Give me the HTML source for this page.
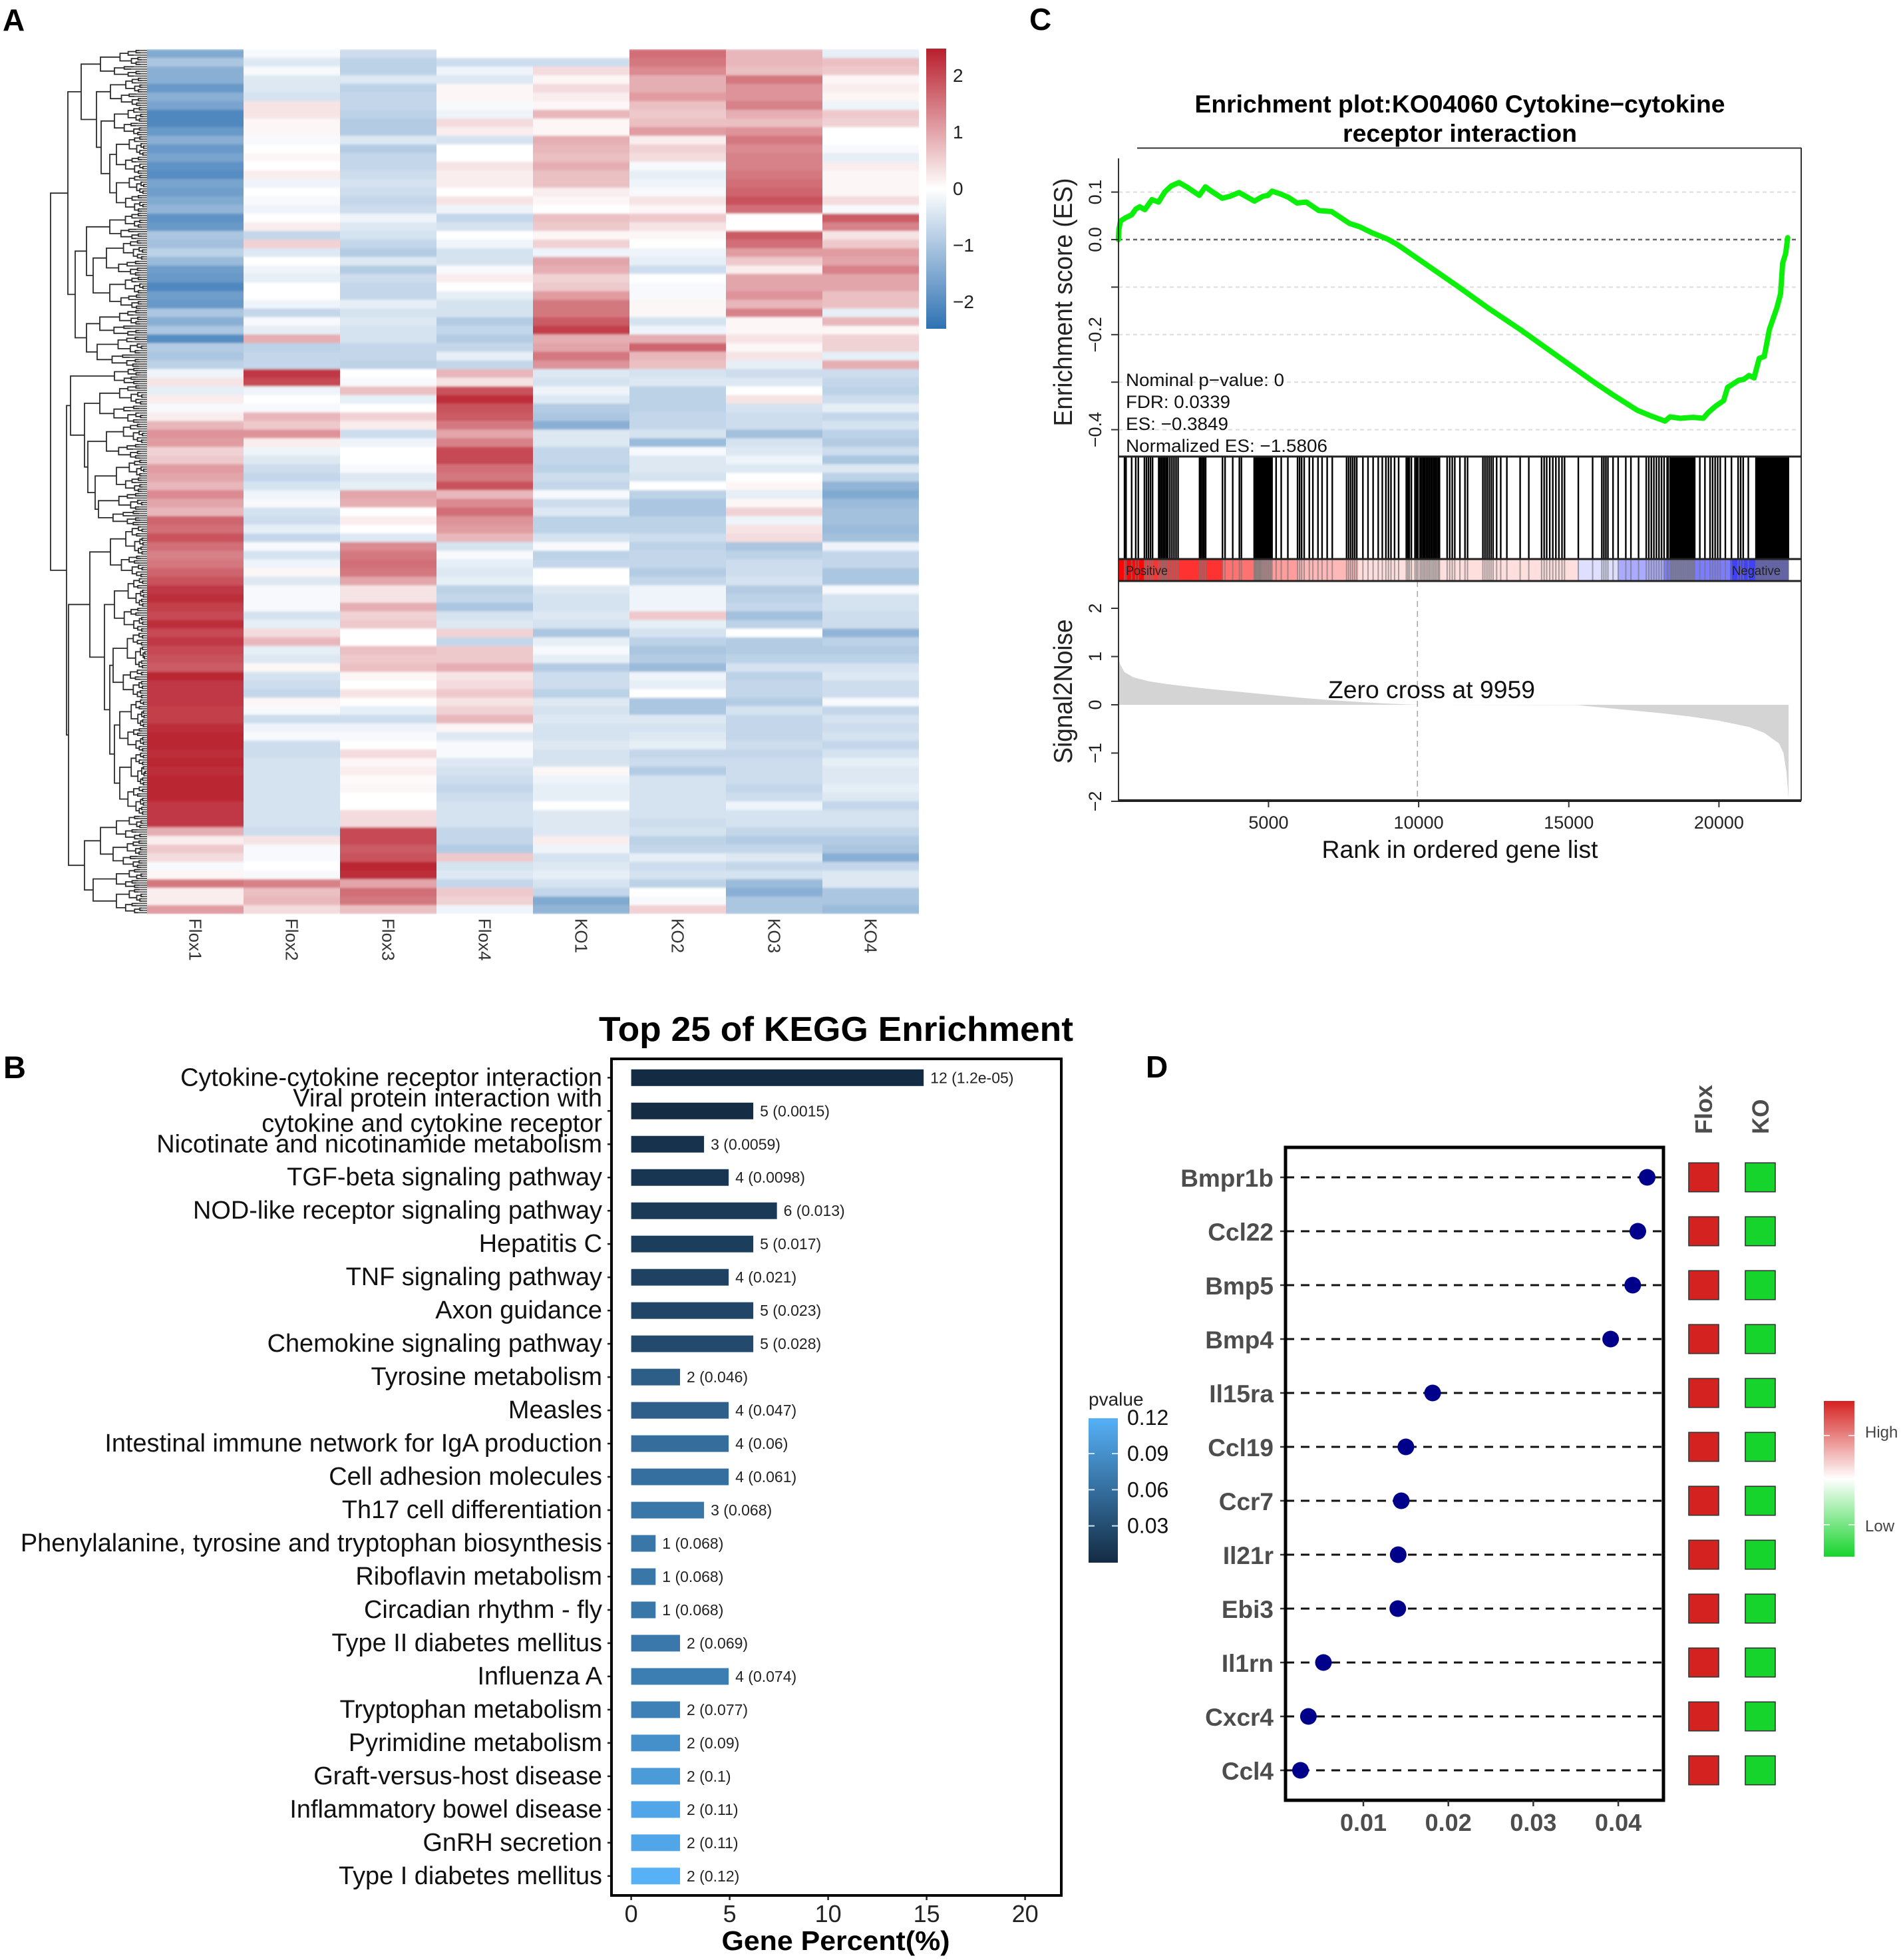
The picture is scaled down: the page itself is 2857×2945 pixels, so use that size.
<!DOCTYPE html>
<html lang="en">
<head>
<meta charset="utf-8">
<title>Multi-panel expression figure</title>
<style>
html,body{margin:0;padding:0;background:#fff;}
svg{display:block;font-family:"Liberation Sans",sans-serif;}
</style>
</head>
<body>
<svg id="fig" xmlns="http://www.w3.org/2000/svg" width="2857" height="2945" viewBox="0 0 2857 2945">
<defs>
<linearGradient id="heatLegendGrad" x1="0" y1="0" x2="0" y2="1">
<stop offset="0" stop-color="#b81f2c"/><stop offset="0.5" stop-color="#ffffff"/><stop offset="1" stop-color="#2f72b3"/>
</linearGradient>
<linearGradient id="pvalGrad" x1="0" y1="0" x2="0" y2="1">
<stop offset="0" stop-color="#56B1F7"/><stop offset="1" stop-color="#132B43"/>
</linearGradient>
<linearGradient id="exprGrad" x1="0" y1="0" x2="0" y2="1">
<stop offset="0" stop-color="#d42220"/><stop offset="0.5" stop-color="#ffffff"/><stop offset="1" stop-color="#17d42d"/>
</linearGradient>
<filter id="softRows" x="0" y="0" width="1" height="1"><feGaussianBlur stdDeviation="0 1.6" edgeMode="duplicate"/></filter>
</defs>
<rect x="0" y="0" width="2857" height="2945" fill="#fff"/>

<text x="4" y="46" font-size="46" font-weight="bold">A</text>
<text x="5" y="1620" font-size="47" font-weight="bold">B</text>
<text x="1547" y="45" font-size="46" font-weight="bold">C</text>
<text x="1722" y="1619" font-size="46" font-weight="bold">D</text>

<g id="panelA">
<g id="dendro"></g>
<g id="heatCells" shape-rendering="crispEdges" filter="url(#softRows)"></g>
<g id="heatLabels"></g>
<rect x="1392" y="73" width="30" height="421" fill="url(#heatLegendGrad)"/>
<g id="heatLegendTicks"></g>
</g>

<g id="panelC">
<text x="2194" y="169" font-size="37" font-weight="bold" text-anchor="middle" textLength="797" lengthAdjust="spacingAndGlyphs">Enrichment plot:KO04060 Cytokine−cytokine</text>
<text x="2194" y="213" font-size="37" font-weight="bold" text-anchor="middle" textLength="352" lengthAdjust="spacingAndGlyphs">receptor interaction</text>
<g id="esGrid"></g>
<g id="stripG" shape-rendering="crispEdges"></g>
<g id="rugG"></g>
<g id="s2nG"></g>
<g id="esCurve"></g>
<g id="cAxes"></g>
<line x1="1709" y1="222.5" x2="2707" y2="222.5" stroke="#333" stroke-width="2"/>
<line x1="2707" y1="222" x2="2707" y2="1203" stroke="#333" stroke-width="2"/>
<line x1="1681" y1="238" x2="1681" y2="1203" stroke="#333" stroke-width="2"/>
<line x1="1681" y1="686" x2="2707" y2="686" stroke="#222" stroke-width="3"/>
<line x1="1681" y1="840" x2="2707" y2="840" stroke="#222" stroke-width="3"/>
<line x1="1681" y1="873" x2="2707" y2="873" stroke="#222" stroke-width="3"/>
<line x1="1681" y1="1203" x2="2707" y2="1203" stroke="#222" stroke-width="4"/>
<text transform="translate(1611 454) rotate(-90)" font-size="39" text-anchor="middle" textLength="373" lengthAdjust="spacingAndGlyphs" fill="#222">Enrichment score (ES)</text>
<text transform="translate(1611 1039) rotate(-90)" font-size="39" text-anchor="middle" textLength="217" lengthAdjust="spacingAndGlyphs" fill="#222">Signal2Noise</text>
<text x="2194" y="1289" font-size="37" text-anchor="middle" textLength="415" lengthAdjust="spacingAndGlyphs" fill="#111">Rank in ordered gene list</text>
<text x="1692" y="580" font-size="27" fill="#111" textLength="238" lengthAdjust="spacingAndGlyphs">Nominal p−value: 0</text>
<text x="1692" y="613" font-size="27" fill="#111" textLength="157" lengthAdjust="spacingAndGlyphs">FDR: 0.0339</text>
<text x="1692" y="646" font-size="27" fill="#111" textLength="154" lengthAdjust="spacingAndGlyphs">ES: −0.3849</text>
<text x="1692" y="679" font-size="27" fill="#111" textLength="303" lengthAdjust="spacingAndGlyphs">Normalized ES: −1.5806</text>
<text x="1692" y="864" font-size="19" fill="#222" textLength="63" lengthAdjust="spacingAndGlyphs">Positive</text>
<text x="2603" y="864" font-size="19" fill="#222" textLength="73" lengthAdjust="spacingAndGlyphs">Negative</text>
<text x="1996" y="1049" font-size="37" fill="#111" textLength="311" lengthAdjust="spacingAndGlyphs">Zero cross at 9959</text>
</g>

<g id="panelB">
<text x="900" y="1564" font-size="52" font-weight="bold" textLength="713" lengthAdjust="spacingAndGlyphs">Top 25 of KEGG Enrichment</text>
<g id="keggBars"></g>
<g id="keggY"></g>
<g id="keggX"></g>
<rect x="919" y="1591" width="676" height="1257" fill="none" stroke="#000" stroke-width="4"/>
<text x="1256" y="2930" font-size="41" font-weight="bold" text-anchor="middle" textLength="343" lengthAdjust="spacingAndGlyphs">Gene Percent(%)</text>
<text x="1636" y="2112" font-size="28" fill="#222">pvalue</text>
<rect x="1636" y="2131" width="44" height="217" fill="url(#pvalGrad)"/>
<g id="pvalTicks"></g>
</g>

<g id="panelD">
<g id="lolli"></g>
<rect x="1932" y="1724" width="568" height="981" fill="none" stroke="#000" stroke-width="5"/>
<g id="lolliDots"></g>
<g id="lolliX"></g>
<g id="exprBoxes"></g>
<text transform="translate(2573 1704) rotate(-90)" font-size="36" font-weight="bold" fill="#4d4d4d">Flox</text>
<text transform="translate(2658 1704) rotate(-90)" font-size="35" font-weight="bold" fill="#4d4d4d">KO</text>
<rect x="2741" y="2105" width="46" height="234" fill="url(#exprGrad)"/>
<line x1="2741" y1="2157" x2="2787" y2="2157" stroke="#fff" stroke-width="1.5" stroke-dasharray="9 28 9"/>
<line x1="2741" y1="2291" x2="2787" y2="2291" stroke="#fff" stroke-width="1.5" stroke-dasharray="9 28 9"/>
<text x="2803" y="2160" font-size="24" fill="#444">High</text>
<text x="2803" y="2301" font-size="24" fill="#444">Low</text>
</g>
</svg>

<script>
/* ---------- Panel A data ---------- */
const sampleNames = ['Flox1','Flox2','Flox3','Flox4','KO1','KO2','KO3','KO4'];
const flox1Values = [
-1.5,-1,-1.4,-1.4,-1.8,-1.4,-1.6,-2.1,-2.1,-1.8,-1.4,-1.8,-1.6,-1.9,-2,-1.6,-1.7,-1.5,-1.3,-1.9,-1.8,-1,-1.1,-.8,-1.2,
-1.7,-1.8,-2.1,-1.7,-1.8,-1,-1.4,-1,-2,-.9,-1,-.8,-.2,.3,-.3,.2,-.1,.2,.8,1.2,1.1,.5,.6,1.1,1,
.8,1.3,1,.8,1.7,1.6,1.9,1.6,1.4,1.5,1.7,1.9,2.2,2.3,2.1,2,2.3,2,2.2,2,1.9,1.8,2.4,2.2,2.2,2.2,
2.1,2.1,2.3,2.4,2.4,2.3,2.4,2.3,2.4,2.4,2.4,2.2,2.2,2.2,.9,.2,.6,.4,-.1,.1,1.5,.2,.2,1.1];
const flox2Values = [
-.1,-.4,-.1,-.4,-.4,-.5,.3,.3,.1,.1,-.1,0,.1,0,.2,-.2,0,-.1,-.2,0,.2,-.7,.5,-.4,0,
-.2,-.3,0,0,-.2,-.7,-.1,-.3,.9,-.8,-.7,-.7,2.2,2,-.2,0,-.1,.8,.6,1.2,.2,-.2,-.4,-.6,-.7,
-.5,-.2,-.1,-.5,-.6,-.3,-.7,-.1,-.5,-.2,.1,-.4,-.1,-.1,-.1,-.5,-.3,.4,.8,-.3,-.4,.1,-.5,-.6,-.7,.1,
-.1,-.6,-.2,-.1,-.6,-.6,-.5,-.5,-.5,-.5,-.5,-.5,-.5,-.5,-.6,.3,-.1,-.1,0,-.1,1.4,.7,.8,.4];
const flox3Values = [
-.6,-.8,-.8,-.4,-.8,-.7,-.7,-.8,-.9,-.9,-.4,-.9,-.7,-.7,-.6,-.5,-.6,-.7,-.6,-.2,-.4,-.5,-.7,-.9,-.4,
-.9,-.6,-.7,-.7,-.3,-.5,-.4,-.5,-.5,-.7,-.7,-.8,0,-.1,.7,-.3,0,.5,.2,-.6,-.2,0,0,-.1,-.4,
-.3,1,.9,0,.2,0,-.4,1.3,1.5,1.6,1.5,1,.3,.3,.9,.5,.6,0,0,.7,.6,.7,.1,0,.3,0,
-.3,-.6,-.2,-.1,0,.4,.1,.2,.05,.1,0,0,.4,.4,2,2,1.8,1.9,2.4,2.3,1,1.6,1.5,.7];
const flox4Values = [
0,-.6,-.2,-.4,.1,.1,-.1,-.2,.4,.2,-.5,0,0,.3,.2,.2,0,.3,-.2,-.7,-.5,0,-.2,-.5,-.5,
-.1,.2,0,-.3,-.5,-.5,-.9,-.7,-.9,-.7,-.3,-.7,.8,.3,1.9,2.3,1.9,1.8,1.5,1,1.4,2,2,1.6,1.5,
1.9,.8,1.3,1.6,1.2,1.1,.8,-.5,-.1,-.3,-.4,-.3,-.8,-.7,-1,-.5,-.4,.5,-.7,.6,.6,.9,.3,.4,.6,.3,
.5,.8,.1,-.4,-.1,-.1,-.4,-.5,-.6,-.7,-.6,-.5,-.5,-.5,-.7,-.7,-.9,.6,-.5,-.4,-.7,.6,.5,-.2];
const ko1Values = [
0,-.6,.4,.1,.4,.2,.1,.8,.1,.1,.9,.8,.7,.9,.7,.7,.2,.1,0,.7,.6,.1,.5,-.2,1,
.9,.5,.6,1.1,1.5,1.5,1.8,2.1,.9,1,1.5,1.2,-.4,-.5,-.2,-.4,-.9,-1,-1.4,-.4,-.4,-.7,-.7,-.8,-.6,
-.7,-.1,-.6,-.4,-.8,-.8,-.5,-.1,-.8,-.7,0,0,-.4,-.5,-.5,-.4,-.5,-1,-.3,-.1,-.3,-.9,-.6,-.6,-.8,-.4,
-.5,-.4,-.5,-.5,-.4,-.5,-.5,.1,-.2,-.3,-.3,0,-.4,-.4,-.4,.2,-.2,-.5,-.4,-.3,-.5,-.7,-1.5,-1.3];
const ko2Values = [
1.6,1.5,1.3,.9,.9,1.1,.7,.6,.7,1.1,.2,.5,.4,-.1,-.3,-.2,-.1,.3,.1,.6,.3,.1,0,-.2,-.3,
-.6,0,-.1,-.1,.1,.1,-.5,-.2,.9,1.7,.8,.7,-.5,-.4,-.8,-.8,-.8,-.7,-.7,-.5,-1.2,-.1,-.4,-.4,-.5,
0,-.8,-1,-1,-.8,-.8,-.6,-.8,-.7,-.7,-.9,-.7,-.2,-.2,-.2,.6,-.3,-.5,-.8,-1,-.9,-1.2,-.2,-.3,0,-1,
-1,-.4,-.5,-.4,-.3,-.7,-.6,-.9,-.5,-.5,-.5,-.5,-.5,-.6,-.5,-.8,-.7,-.3,-.6,-.5,-.8,0,-.1,.5];
const ko3Values = [
.8,.8,.7,1.5,1.2,1.2,1.4,.9,.7,1.2,1.5,1.3,1.4,1.4,1.5,1.6,1.7,1.9,1.6,0,0,1.8,1.6,1.1,.6,
.2,1,1,1.2,.8,1.4,.1,.1,.3,.1,.3,-.3,-.6,-.4,0,.3,-.5,-.6,-.6,-1.1,-.5,-.4,-.2,-.4,0,
.1,-.3,.1,.5,-.2,.3,.4,-1,-.8,-.6,-.6,-.5,-.9,-.8,-.7,-1.1,-.8,0,-.9,-.9,-.8,-.5,-.8,-.7,-.7,-.9,
-.5,-.7,-.7,-.7,-.6,-.7,-.6,-.6,-.6,-.7,-.6,-.2,-.5,-.5,-.7,-.9,-.7,-.4,-.7,-.5,-1.2,-1.4,-1,-1];
const ko4Values = [
-.3,.7,.6,.1,.2,.1,-.2,.6,.5,0,0,-.1,-.3,.2,.1,.1,.1,.4,-.1,1.8,1.4,.3,.6,1.1,1,
1.4,1,1,.7,.7,-.3,.8,.1,.5,.5,-.3,.9,-.6,-.7,-.8,-.6,-.3,-.7,-.5,-.8,-.9,-.6,-1,-.4,-.8,
-1.3,-1.5,-1.2,-1.1,-1.1,-1.2,-1.1,-.2,-.7,-.7,-1,-1,-.1,-.5,-.5,-.6,-.6,-1.3,-.8,-.9,-.8,-.5,-.4,-.6,-.6,-.1,
-.7,-.5,-.6,-.5,-.7,-.5,-.3,-.4,-.4,-.3,-.4,-.7,-.5,-.5,-.7,-.9,-1,-1.4,-.7,-.4,-.4,-1,-1,-1.2];
const heatTicks = [2,1,0,-1,-2];
const heatTickLabels = ['2','1','0','−1','−2'];

/* ---------- Panel C data ---------- */
const esRanks = [0,17,68,237,441,576,712,881,1119,1339,1542,1763,2017,2271,2695,2898,3119,3458,3712,4017,4305,4526,4814,4983,5119,5407,5661,5949,6255,6678,7102,7695,8034,8458,8967,9306,10153,11340,12357,13374,14730,15747,16425,17272,17696,18204,18374,18713,19137,19476,19645,19899,20154,20289,20662,20832,21001,21171,21340,21510,21679,21933,22052,22120,22222,22289];
const esValues = [0,.021,.039,.046,.052,.064,.069,.063,.084,.079,.1,.113,.12,.111,.093,.111,.101,.087,.091,.099,.089,.081,.091,.093,.102,.096,.089,.077,.079,.061,.059,.034,.027,.014,.001,-.011,-.048,-.1,-.146,-.189,-.25,-.296,-.325,-.359,-.37,-.382,-.373,-.376,-.374,-.376,-.364,-.35,-.339,-.311,-.296,-.294,-.286,-.291,-.25,-.246,-.189,-.143,-.114,-.05,-.029,.004];
const hitRanks = [204,255,442,578,663,867,935,1003,1071,1139,1343,1394,1445,1496,1547,1598,1649,1717,1785,1853,1921,1989,2703,2754,2805,2856,2907,3468,3553,3808,4029,4097,4522,4548,4573,4598,4624,4649,4675,4700,4726,4751,4777,4811,4845,4879,4913,4947,4981,5015,5049,5083,5117,5253,5423,5644,5967,6035,6103,6188,6358,6477,6647,6783,6953,7123,7599,7667,7735,7803,7871,7939,8143,8313,8483,8653,8789,8908,8993,9078,9197,9333,9588,9639,9690,9758,9877,9928,9979,10047,10098,10149,10200,10251,10302,10353,10404,10455,10506,10557,10608,10659,10693,10948,11033,11118,11203,11373,11543,11628,12138,12206,12274,12342,12410,12478,12597,12733,12937,13379,13668,14093,14178,14263,14365,14467,14569,14671,14773,14858,15317,15793,16099,16167,16235,16303,16473,16643,16898,17068,17323,17578,17663,17748,17833,17918,18003,18088,18173,18275,18309,18377,18411,18445,18479,18513,18547,18581,18615,18649,18683,18717,18751,18785,18819,18853,18887,18921,18955,18989,19023,19057,19091,19125,19159,19193,19363,19533,19703,19788,19873,19958,20043,20213,20417,20638,20723,20808,20978,21233,21273,21313,21353,21393,21433,21473,21513,21553,21593,21633,21673,21713,21753,21793,21833,21873,21913,21953,21993,22033,22073,22113,22153,22193,22233,22273,22313];
const stripRanks = [0,870,3470,4520,5970,7980,15280,16640,18170,20380,22320];
const stripColors = ['#fb0606','#ff3232','#ff7272','#ff9c9c','#ffb8b8','#ffdede','#dfdfff','#aaaaff','#7c7cff','#4040ff'];
const s2nRanks = [0,50,200,500,1000,1500,2000,3000,4000,5000,6000,7000,8000,9000,9959,15300,15500,16000,17000,18000,19000,20000,21000,21500,22000,22150,22250,22320];
const s2nValues = [1,.85,.68,.57,.49,.44,.4,.33,.27,.21,.15,.1,.06,.025,0,-.005,-.02,-.05,-.11,-.17,-.24,-.33,-.46,-.58,-.8,-1,-1.4,-1.95];
const zeroCrossRank = 9959;
const esTicks = [.1,0,-.1,-.2,-.3,-.4];
const esTickLabels = ['0.1','0.0','','−0.2','','−0.4'];
const esDimGrid = [.1,-.1,-.2,-.3,-.4];
const s2nTicks = [2,1,0,-1,-2];
const s2nTickLabels = ['2','1','0','−1','−2'];
const rankTicks = [5000,10000,15000,20000];
const rankTickLabels = ['5000','10000','15000','20000'];

/* ---------- Panel B data ---------- */
const keggPathways = ['Cytokine-cytokine receptor interaction','Viral protein interaction with\ncytokine and cytokine receptor','Nicotinate and nicotinamide metabolism','TGF-beta signaling pathway','NOD-like receptor signaling pathway','Hepatitis C','TNF signaling pathway','Axon guidance','Chemokine signaling pathway','Tyrosine metabolism','Measles','Intestinal immune network for IgA production','Cell adhesion molecules','Th17 cell differentiation','Phenylalanine, tyrosine and tryptophan biosynthesis','Riboflavin metabolism','Circadian rhythm - fly','Type II diabetes mellitus','Influenza A','Tryptophan metabolism','Pyrimidine metabolism','Graft-versus-host disease','Inflammatory bowel disease','GnRH secretion','Type I diabetes mellitus'];
const keggCounts = [12,5,3,4,6,5,4,5,5,2,4,4,4,3,1,1,1,2,4,2,2,2,2,2,2];
const keggPercent = [14.85,6.2,3.7,4.95,7.4,6.2,4.95,6.2,6.2,2.48,4.95,4.95,4.95,3.7,1.24,1.24,1.24,2.48,4.95,2.48,2.48,2.48,2.48,2.48,2.48];
const keggPvalueLabels = ['1.2e-05','0.0015','0.0059','0.0098','0.013','0.017','0.021','0.023','0.028','0.046','0.047','0.06','0.061','0.068','0.068','0.068','0.068','0.069','0.074','0.077','0.09','0.1','0.11','0.11','0.12'];
const keggXTicks = [0,5,10,15,20];
const pvalLegendTicks = [.12,.09,.06,.03];
const pvalLegendLabels = ['0.12','0.09','0.06','0.03'];

/* ---------- Panel D data ---------- */
const geneNames = ['Bmpr1b','Ccl22','Bmp5','Bmp4','Il15ra','Ccl19','Ccr7','Il21r','Ebi3','Il1rn','Cxcr4','Ccl4'];
const geneValues = [.0434,.0423,.0417,.0391,.01815,.015,.01446,.0141,.01405,.0053,.00353,.0026];
const floxLevels = [1,1,1,1,1,1,1,1,1,1,1,1];
const koLevels = [-1,-1,-1,-1,-1,-1,-1,-1,-1,-1,-1,-1];
const lolliXTicks = [.01,.02,.03,.04];
const lolliXLabels = ['0.01','0.02','0.03','0.04'];

/* ---------- Row dendrogram structure ---------- */
const dendroTree = [76,
 [102,
  [122,[151,74,116],[145,[166,116,160],[152,[172,160,204],[165,[175,204,262],[175,262,319]]]]],
  [113,[130,[165,319,360],[140,[160,360,415],[165,415,465]]],[130,[150,465,505],[146,505,552]]]],
 [100,
  [106,[172,552,578],[127,[150,578,636],[132,[160,636,690],[143,[175,690,740],[148,740,790]]]]],
  [103,
   [135,[166,790,868],[157,[172,868,950],[165,[170,950,1050],[172,[180,1050,1130],[180,1130,1225]]]]],
   [127,[151,[175,1225,1262],[170,1262,1305]],[140,[175,1305,1335],[175,1335,1373]]]]]];

/* ---------- helpers ---------- */
const NS = 'http://www.w3.org/2000/svg';
function mk(tag, attrs, parent, text){
  const el = document.createElementNS(NS, tag);
  for (const k in attrs) el.setAttribute(k, attrs[k]);
  if (text !== undefined) el.textContent = text;
  parent.appendChild(el);
  return el;
}
function $(id){ return document.getElementById(id); }
function lerpColor(a, b, t){
  const pa = [1,3,5].map(i=>parseInt(a.substr(i,2),16));
  const pb = [1,3,5].map(i=>parseInt(b.substr(i,2),16));
  return 'rgb(' + pa.map((v,i)=>Math.round(v+(pb[i]-v)*t)).join(',') + ')';
}

/* ---------- Panel A ---------- */
const heatColumns = [flox1Values,flox2Values,flox3Values,flox4Values,ko1Values,ko2Values,ko3Values,ko4Values];
const heatLeft = 221, heatTop = 74, heatRight = 1381, heatBottom = 1373;
function heatX(j){ return heatLeft + j*(heatRight-heatLeft)/heatColumns.length; }
function heatY(i, n){ return heatTop + i*(heatBottom-heatTop)/n; }
function heatColor(v){
  const m = 2.48;
  const t = Math.max(-1, Math.min(1, v/m));
  return t >= 0 ? lerpColor('#ffffff','#b81f2c',t) : lerpColor('#ffffff','#2f72b3',-t);
}
heatColumns.forEach(function(col, j){
  col.forEach(function(v, i){
    const cell = mk('rect',{x:heatX(j),y:heatY(i,col.length),width:heatX(j+1)-heatX(j),height:heatY(i+1,col.length)-heatY(i,col.length)+.5,fill:heatColor(v)},$('heatCells'));
    
    
  });
});
sampleNames.forEach(function(name, j){
  const cx = (heatX(j)+heatX(j+1))/2;
  const label = mk('text',{transform:'translate('+(cx-9)+' 1380) rotate(90)','font-size':26,fill:'#333'},$('heatLabels'),name);
  
  
});
heatTicks.forEach(function(v, i){
  const y = 283 - 85*v;
  const label = mk('text',{x:1432,y:y+10,'font-size':28,fill:'#222'},$('heatLegendTicks'),heatTickLabels[i]);
  
  
});

/* dendrogram */
let branchPath = '', leafPath = '';
const leafEnd = heatLeft, leafStep = 3.4;
function drawTerminal(x, y0, y1, depth){
  const n = Math.round((y1-y0)/leafStep);
  if (n <= 1){
    const m = (y0+y1)/2;
    leafPath += 'M'+x.toFixed(1)+' '+m.toFixed(1)+'H'+leafEnd;
    return m;
  }
  const frac = depth % 2 ? .38 : .55;
  const split = y0 + Math.max(1, Math.round(n*frac))*(y1-y0)/n;
  const xa = x + (leafEnd-x)*(depth % 2 ? .30 : .42);
  const xb = x + (leafEnd-x)*(depth % 2 ? .42 : .30);
  const a = drawTerminal(xa, y0, split, depth+1);
  const b = drawTerminal(xb, split, y1, depth+1);
  branchPath += 'M'+xa.toFixed(1)+' '+a.toFixed(1)+'H'+x.toFixed(1)+'V'+b.toFixed(1)+'H'+xb.toFixed(1);
  return (a+b)/2;
}
function drawNode(node){
  if (!Array.isArray(node[1])) return {x:node[0], y:drawTerminal(node[0], node[1], node[2], 0)};
  const a = drawNode(node[1]), b = drawNode(node[2]);
  branchPath += 'M'+a.x+' '+a.y.toFixed(1)+'H'+node[0]+'V'+b.y.toFixed(1)+'H'+b.x;
  return {x:node[0], y:(a.y+b.y)/2};
}
drawNode(dendroTree);
const leafEl = mk('path',{d:leafPath,fill:'none',stroke:'#5a5a5a','stroke-width':1.9},$('dendro'));


const branchEl = mk('path',{d:branchPath,fill:'none',stroke:'#2b2b2b','stroke-width':1.8},$('dendro'));



/* ---------- Panel C ---------- */
function rankX(r){ return 1680.8 + .04513*r; }
function esY(v){ return 360 - 714*v; }
function s2nY(v){ return 1059 - 72.5*v; }

esDimGrid.forEach(function(v){
  const g = mk('line',{x1:1681,x2:2700,y1:esY(v),y2:esY(v),stroke:'#dcdcdc','stroke-width':2,'stroke-dasharray':'6 5'},$('esGrid'));
  
  
});
const zeroLine = mk('line',{x1:1681,x2:2700,y1:esY(0),y2:esY(0),stroke:'#666','stroke-width':2.5,'stroke-dasharray':'6 5'},$('esGrid'));



stripColors.forEach(function(c, i){
  const s = mk('rect',{x:rankX(stripRanks[i]),y:840,width:rankX(stripRanks[i+1])-rankX(stripRanks[i]),height:33,fill:c},$('stripG'));
  
  
});
hitRanks.forEach(function(r){
  const x = rankX(r);
  const rug = mk('line',{x1:x,x2:x,y1:686,y2:840,stroke:'#000','stroke-width':2.4},$('rugG'));
  
  
  const shade = mk('line',{x1:x,x2:x,y1:840,y2:873,stroke:'#777','stroke-width':2,'stroke-opacity':.65},$('rugG'));
  
  
});

let areaD = 'M'+rankX(s2nRanks[0])+' '+s2nY(0);
s2nRanks.forEach(function(r, i){ areaD += 'L'+rankX(r).toFixed(1)+' '+s2nY(s2nValues[i]).toFixed(1); });
areaD += 'L'+rankX(s2nRanks[s2nRanks.length-1]).toFixed(1)+' '+s2nY(0)+'Z';
const areaEl = mk('path',{d:areaD,fill:'#d4d4d4',stroke:'none'},$('s2nG'));


const zeroCross = mk('line',{x1:rankX(zeroCrossRank),x2:rankX(zeroCrossRank),y1:873,y2:1203,stroke:'#aaa','stroke-width':1.6,'stroke-dasharray':'9 6'},$('s2nG'));



const esPts = esRanks.map(function(r, i){ return rankX(r).toFixed(1)+','+esY(esValues[i]).toFixed(1); }).join(' ');
const esLine = mk('polyline',{points:esPts,fill:'none',stroke:'#0bef0b','stroke-width':8,'stroke-linejoin':'round','stroke-linecap':'round'},$('esCurve'));



esTicks.forEach(function(v, i){
  const y = esY(v);
  const t = mk('line',{x1:1670,x2:1681,y1:y,y2:y,stroke:'#333','stroke-width':2},$('cAxes'));
  
  
  if (esTickLabels[i]){
    const l = mk('text',{transform:'translate(1655 '+y+') rotate(-90)','font-size':27,'text-anchor':'middle',fill:'#222'},$('cAxes'),esTickLabels[i]);
    
    
  }
});
s2nTicks.forEach(function(v, i){
  const y = s2nY(v);
  const t = mk('line',{x1:1670,x2:1681,y1:y,y2:y,stroke:'#333','stroke-width':2},$('cAxes'));
  
  
  const l = mk('text',{transform:'translate(1655 '+y+') rotate(-90)','font-size':27,'text-anchor':'middle',fill:'#222'},$('cAxes'),s2nTickLabels[i]);
  
  
});
rankTicks.forEach(function(r, i){
  const x = rankX(r);
  const t = mk('line',{x1:x,x2:x,y1:1203,y2:1213,stroke:'#333','stroke-width':2},$('cAxes'));
  
  
  const l = mk('text',{x:x,y:1245,'font-size':27,'text-anchor':'middle',fill:'#222'},$('cAxes'),rankTickLabels[i]);
  
  
});

/* ---------- Panel B ---------- */
function keggX(v){ return 948.6 + 29.6*v; }
function keggY(i){ return 1619.3 + 49.98*i; }
function pvalColor(p){ return lerpColor('#132B43','#56B1F7',Math.min(1,p/.12)); }
keggPathways.forEach(function(name, i){
  const y = keggY(i);
  const p = Number(keggPvalueLabels[i]);
  const bar = mk('rect',{x:keggX(0),y:y-12.5,width:keggX(keggPercent[i])-keggX(0),height:25,fill:pvalColor(p)},$('keggBars'));
  
  
  const val = mk('text',{x:keggX(keggPercent[i])+10,y:y+8,'font-size':23,fill:'#222'},$('keggBars'),keggCounts[i]+' ('+keggPvalueLabels[i]+')');
  
  
  const tick = mk('line',{x1:913,x2:919,y1:y,y2:y,stroke:'#222','stroke-width':2.5},$('keggY'));
  
  
  const lines = name.split('\n');
  lines.forEach(function(line, k){
    const ly = y + (k-(lines.length-1)/2)*38 + 12;
    const lab = mk('text',{x:905,y:ly,'font-size':37.9,'text-anchor':'end',fill:'#111'},$('keggY'),line);
    
    
  });
});
keggXTicks.forEach(function(v){
  const x = keggX(v);
  const tick = mk('line',{x1:x,x2:x,y1:2848,y2:2855,stroke:'#222','stroke-width':2.5},$('keggX'));
  
  
  const lab = mk('text',{x:x,y:2888,'font-size':36,'text-anchor':'middle',fill:'#222'},$('keggX'),String(v));
  
  
});
function pvalLegendY(p){ return 2347 - 1810*p; }
pvalLegendTicks.forEach(function(p, i){
  const y = pvalLegendY(p);
  if (i > 0){
    const t1 = mk('line',{x1:1636,x2:1645,y1:y,y2:y,stroke:'#cfe6f7','stroke-width':2},$('pvalTicks'));
    
    
    const t2 = mk('line',{x1:1671,x2:1680,y1:y,y2:y,stroke:'#cfe6f7','stroke-width':2},$('pvalTicks'));
    
    
  }
  const lab = mk('text',{x:1694,y:y+11,'font-size':32,fill:'#111'},$('pvalTicks'),pvalLegendLabels[i]);
  
  
});

/* ---------- Panel D ---------- */
function lolliX(v){ return 1921.3 + 12770*v; }
function lolliY(i){ return 1769 + 81*i; }
function exprColor(v){ return v >= 0 ? lerpColor('#ffffff','#d42220',Math.min(1,v)) : lerpColor('#ffffff','#17d42d',Math.min(1,-v)); }
geneNames.forEach(function(name, i){
  const y = lolliY(i);
  const dash = mk('line',{x1:1932,x2:2500,y1:y,y2:y,stroke:'#111','stroke-width':3,'stroke-dasharray':'13 10'},$('lolli'));
  
  
  const tick = mk('line',{x1:1924,x2:1932,y1:y,y2:y,stroke:'#333','stroke-width':2.5},$('lolli'));
  
  
  const lab = mk('text',{x:1914,y:y+14,'font-size':37,'font-weight':'bold','text-anchor':'end',fill:'#4d4d4d'},$('lolli'),name);
  
  
  const dot = mk('circle',{cx:lolliX(geneValues[i]),cy:y,r:12.5,fill:'#00008b'},$('lolliDots'));
  
  
  const fb = mk('rect',{x:2538,y:y-21.75,width:45,height:43.5,fill:exprColor(floxLevels[i]),stroke:'#333','stroke-width':1.6},$('exprBoxes'));
  
  
  const kb = mk('rect',{x:2623,y:y-21.75,width:45,height:43.5,fill:exprColor(koLevels[i]),stroke:'#333','stroke-width':1.6},$('exprBoxes'));
  
  
});
lolliXTicks.forEach(function(v, i){
  const x = lolliX(v);
  const tick = mk('line',{x1:x,x2:x,y1:2705,y2:2714,stroke:'#333','stroke-width':2.5},$('lolliX'));
  
  
  const lab = mk('text',{x:x,y:2751,'font-size':36,'font-weight':'bold','text-anchor':'middle',fill:'#4d4d4d'},$('lolliX'),lolliXLabels[i]);
  
  
});
</script>
</body>
</html>
